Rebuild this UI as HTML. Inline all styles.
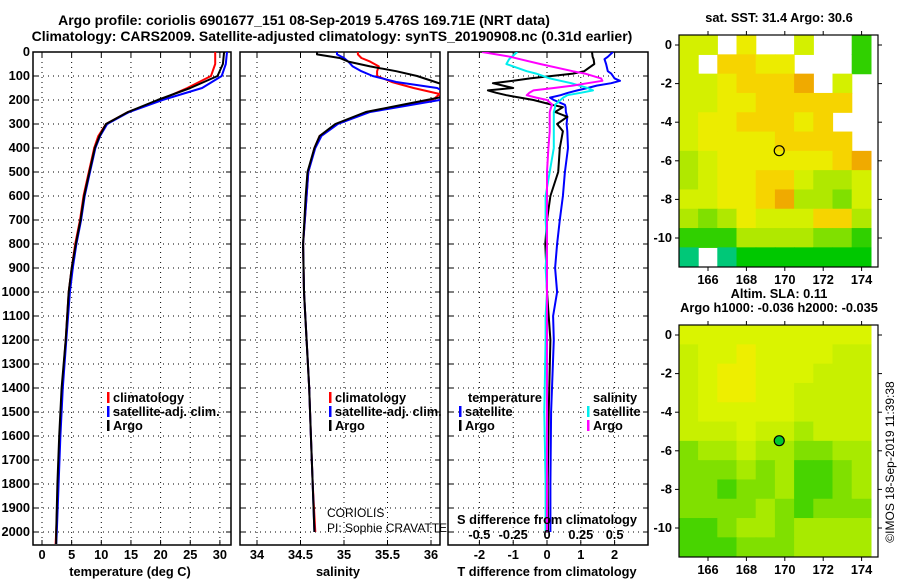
<!DOCTYPE html>
<html><head><meta charset="utf-8">
<style>
html,body{margin:0;padding:0;background:#fff;}
svg{display:block;font-family:"Liberation Sans",Arial,sans-serif;}
.t{font-weight:bold;font-size:14px;}
.tk{font-weight:bold;font-size:12.8px;}
</style></head>
<body>
<svg id="fig" width="900" height="580" viewBox="0 0 900 580" xmlns="http://www.w3.org/2000/svg">
<text x="304" y="25" text-anchor="middle" class="t">Argo profile: coriolis 6901677_151 08-Sep-2019 5.476S 169.71E (NRT data)</text>
<text x="332" y="41" text-anchor="middle" class="t">Climatology: CARS2009. Satellite-adjusted climatology: synTS_20190908.nc (0.31d earlier)</text>
<g id="plots"></g>
</svg>
<script>
// ---------- Data ----------
const tDepths = [0,50,100,150,200,250,300,350,400,500,600,700,800,900,1000,1200,1400,1600,1800,2000,2050];
const tClim   = [29.2,29.2,28.5,24.5,19.9,14.5,10.8,9.5,8.8,7.9,7.0,6.4,5.6,5.0,4.5,4.0,3.4,3.0,2.7,2.4,2.3];
const tSat    = [31.2,31.0,30.3,27.0,20.3,14.7,11.0,9.8,9.0,8.1,7.2,6.6,5.8,5.2,4.7,4.1,3.5,3.1,2.8,2.5,2.4];
const tArgo   = [30.7,30.5,29.6,25.0,19.5,14.5,10.8,9.7,8.9,8.0,7.1,6.5,5.7,5.0,4.5,4.0,3.3,2.9,2.6,2.4,2.4];

const sDepths = [0,10,25,40,60,80,100,125,150,175,200,225,250,300,350,400,500,600,800,1000,1200,1400,1600,1800,2000];
const sArgo = [34.69,34.69,34.95,35.05,35.3,35.6,35.84,36.05,36.25,36.3,35.95,35.6,35.25,34.9,34.72,34.66,34.58,34.56,34.53,34.54,34.57,34.6,34.62,34.64,34.66];
const sSat  = [34.92,34.92,35.0,35.05,35.1,35.2,35.33,35.6,36.07,36.2,36.1,35.7,35.3,34.93,34.74,34.67,34.59,34.57,34.53,34.54,34.57,34.6,34.62,34.64,34.66];
const sClim = [35.16,35.16,35.2,35.3,35.4,35.38,35.38,35.55,35.8,36.1,36.02,35.65,35.26,34.92,34.72,34.66,34.59,34.57,34.53,34.54,34.57,34.6,34.62,34.64,34.67];

const dDepths = [0,20,30,50,80,90,110,120,130,140,150,160,170,180,190,200,220,230,250,270,300,330,400,500,600,700,800,900,1000,1100,1200,1500,1800,2000];
const dtArgo = [1.33,1.35,1.38,1.4,1.1,0.77,-0.5,-1.0,-1.6,-1.3,-1.0,-1.75,-1.5,-1.2,-0.8,-0.4,0.15,0.47,0.24,0.6,0.3,0.47,0.38,0.33,0.1,0.0,-0.05,-0.02,0.0,0.05,0.1,0.05,0.02,0.03];
const dtSat  = [1.95,1.8,1.7,1.75,1.8,1.9,2.0,2.16,1.9,1.47,1.2,0.9,0.62,0.4,0.09,0.2,0.53,0.55,0.56,0.6,0.58,0.6,0.62,0.53,0.47,0.38,0.3,0.24,0.3,0.18,0.2,0.12,0.1,0.1];
const dsArgo = [-0.48,-0.27,-0.2,-0.05,0.19,0.28,0.4,0.41,0.3,0.19,0.05,-0.1,-0.13,-0.15,-0.08,0.0,0.04,0.03,0.02,0.02,0.02,0.02,0.01,0.0,0.0,0.0,0.0,0.0,0.0,0.0,0.0,0.0,0.0,0.0];
const dsSat  = [-0.22,-0.26,-0.28,-0.3,-0.15,-0.08,0.02,0.1,0.18,0.24,0.3,0.34,0.25,0.15,0.12,0.1,0.06,0.06,0.05,0.05,0.05,0.05,0.05,0.02,-0.01,-0.01,0.0,-0.01,0.0,-0.01,-0.01,-0.02,-0.01,-0.01];

const depthTicks = [0,100,200,300,400,500,600,700,800,900,1000,1100,1200,1300,1400,1500,1600,1700,1800,1900,2000];
const tTicks = [0,5,10,15,20,25,30];
const sTicks = [34,34.5,35,35.5,36];
const sTickLabels = ["34","34.5","35","35.5","36"];
const dtTicks = [-2,-1,0,1,2];
const dsTicks = [-0.5,-0.25,0,0.25,0.5];
const dsTickLabels = ["-0.5","-0.25","0","0.25","0.5"];

// Map fields (rows lat 0..-11, cols lon 165..174); '.' = no data
const sstRows = ["66.7..6..3","6.8877...3","6678889.6.","667788888.","67788878..","677778888.","5677777789","5677886556","6677895546","5457666885","3335555443","1.12222222"];
const slaRows = ["7777777777","6778777766","6788777666","6788776666","6777776666","6667665666","4556554455","4445453345","4434453345","4444543444","3345545555","3334445555"];
const lonTicks = [166,168,170,172,174];
const latTicks = [0,-2,-4,-6,-8,-10];
const floatLon = 169.71, floatLat = -5.476;

// ---------- Helpers ----------
const NS = "http://www.w3.org/2000/svg";
const root = document.getElementById('plots');
function mk(tag, attrs, parent){ const e=document.createElementNS(NS,tag); for(const k in attrs) e.setAttribute(k,attrs[k]); (parent||root).appendChild(e); return e; }
function txt(x,y,s,attrs,parent){ const e=mk('text',Object.assign({x:x,y:y},attrs||{}),parent); e.textContent=s; return e; }

const yTop=52, pxPerM=0.24, yBot=545;
const yD = d => yTop + d*pxPerM;

function panel(name,x0,x1,xScale,xTicks,xLabels,grid){
  const g=mk('g',{});  
  const cp=mk('clipPath',{id:'cp-'+name},g); mk('rect',{x:x0,y:yTop,width:x1-x0,height:yBot-yTop},cp);
  depthTicks.forEach(d=>{ const y=yD(d);
    mk('line',{x1:x0,x2:x1,y1:y,y2:y,stroke:'#000','stroke-width':1,'stroke-dasharray':'1,4'},g);
    mk('line',{x1:x0,x2:x0+5,y1:y,y2:y,stroke:'#000'},g);
    mk('line',{x1:x1-5,x2:x1,y1:y,y2:y,stroke:'#000'},g);
  });
  grid.forEach(v=>{ const x=xScale(v);
    mk('line',{x1:x,x2:x,y1:yTop,y2:yBot,stroke:'#000','stroke-width':1,'stroke-dasharray':'1,4'},g);
  });
  mk('rect',{x:x0,y:yTop,width:x1-x0,height:yBot-yTop,fill:'none',stroke:'#000','stroke-width':1.5},g);
  xTicks.forEach((v,i)=>{ const x=xScale(v);
    mk('line',{x1:x,x2:x,y1:yBot,y2:yBot-5,stroke:'#000'},g);
    mk('line',{x1:x,x2:x,y1:yTop,y2:yTop+5,stroke:'#000'},g);
    if(xLabels){ const t=txt(x,559,xLabels[i],{'text-anchor':'middle','class':'tk'},g);
        }
  });
  return g;
}
function series(g,name,clip,depths,vals,xScale,color,w){
  const pts=depths.map((d,i)=>xScale(vals[i]).toFixed(1)+','+yD(d).toFixed(1)).join(' ');
  const p=mk('polyline',{points:pts,fill:'none',stroke:color,'stroke-width':w||2,'clip-path':'url(#cp-'+clip+')','stroke-linejoin':'round'},g);
   
}
function legend(g,x,y,color,label,name){
  mk('rect',{x:x,y:y-10,width:2.5,height:11,fill:color},g);
  const t=txt(x+6,y,label,{'class':'tk'},g);
   
}

// ---------- Panel 1: temperature ----------
const xT = v => 42 + v*5.93;
const g1 = panel('temperature-panel',33,231,xT,tTicks,tTicks.map(String),tTicks);
depthTicks.forEach(d=>{ const t=txt(30,yD(d)+4,String(d),{'text-anchor':'end','class':'tk'},g1);
    });
series(g1,'temp-climatology-line','temperature-panel',tDepths,tClim,xT,'#f00');
series(g1,'temp-satellite-line','temperature-panel',tDepths,tSat,xT,'#00f');
series(g1,'temp-argo-line','temperature-panel',tDepths,tArgo,xT,'#000');
legend(g1,107,402,'#f00','climatology','legend-climatology');
legend(g1,107,416,'#00f','satellite-adj. clim.','legend-satellite');
legend(g1,107,430,'#000','Argo','legend-argo');
txt(130,576,'temperature (deg C)',{'text-anchor':'middle','class':'tk'},g1);

// ---------- Panel 2: salinity ----------
const xS = v => 257 + (v-34)*87;
const g2 = panel('salinity-panel',240,440,xS,sTicks,sTickLabels,sTicks);
series(g2,'sal-climatology-line','salinity-panel',sDepths,sClim,xS,'#f00');
series(g2,'sal-satellite-line','salinity-panel',sDepths,sSat,xS,'#00f');
series(g2,'sal-argo-line','salinity-panel',sDepths,sArgo,xS,'#000');
legend(g2,329,402,'#f00','climatology','legend-climatology');
legend(g2,329,416,'#00f','satellite-adj. clim.','legend-satellite');
legend(g2,329,430,'#000','Argo','legend-argo');
txt(327,517,'CORIOLIS',{'font-size':'12px'},g2);
txt(327,532,'PI: Sophie CRAVATTE',{'font-size':'12px'},g2);
txt(338,576,'salinity',{'text-anchor':'middle','class':'tk'},g2);

// ---------- Panel 3: differences ----------
const xDT = v => 547 + v*33.8;
const xDS = v => 547 + v*135.2;
const g3 = panel('difference-panel',448,648,xDT,dtTicks,dtTicks.map(String),dtTicks);
series(g3,'dT-satellite-line','difference-panel',dDepths,dtSat,xDT,'#00f');
series(g3,'dT-argo-line','difference-panel',dDepths,dtArgo,xDT,'#000');
series(g3,'dS-satellite-line','difference-panel',dDepths,dsSat,xDS,'#0ee');
series(g3,'dS-argo-line','difference-panel',dDepths,dsArgo,xDS,'#f0f');
txt(468,402,'temperature',{'class':'tk'},g3);
legend(g3,459,416,'#00f','satellite','legend-t-satellite');
legend(g3,459,430,'#000','Argo','legend-argo');
txt(593,402,'salinity',{'class':'tk'},g3);
legend(g3,587,416,'#0ee','satellite','legend-s-satellite');
legend(g3,587,430,'#f0f','Argo','legend-s-argo');
txt(547,524,'S difference from climatology',{'text-anchor':'middle','class':'tk'},g3);
dsTicks.forEach((v,i)=>{ const t=txt(xDS(v),539,dsTickLabels[i],{'text-anchor':'middle','class':'tk'},g3);
    });
txt(547,576,'T difference from climatology',{'text-anchor':'middle','class':'tk'},g3);

// ---------- Maps ----------
const sstColors = {'1':'#00c878','2':'#00c800','3':'#30d000','4':'#80e000','5':'#b0e800','6':'#d4f000','7':'#ecec00','8':'#f6d400','9':'#f0aa00'};
const slaColors = {'3':'#48d400','4':'#80e000','5':'#a8ea00','6':'#c8f000','7':'#daf400','8':'#eeee00'};
function map(name,top,rows,colors,title1,title2,filledMarker){
  const x0=679,x1=878,y0=top,y1=top+232;
  const lonS = v => 708 + (v-166)*19.2;
  const latS = v => (top+10) - v*19.3;
  const g=mk('g',{});  
  const cp=mk('clipPath',{id:'cp-'+name},g); mk('rect',{x:x0,y:y0,width:x1-x0,height:y1-y0},cp);
  const cg=mk('g',{'clip-path':'url(#cp-'+name+')'},g);
  rows.forEach((row,r)=>{ for(let c=0;c<row.length;c++){ const ch=row[c]; if(ch==='.') continue;
    const lon=165+c, lat=-r;
    const cell=mk('rect',{x:lonS(lon-0.5)-0.3,y:latS(lat+0.5)-0.3,width:19.8,height:19.9,fill:colors[ch]},cg);
     
  }});
  mk('rect',{x:x0,y:y0,width:x1-x0,height:y1-y0,fill:'none',stroke:'#000','stroke-width':1.2},g);
  lonTicks.forEach(v=>{ const x=lonS(v);
    mk('line',{x1:x,x2:x,y1:y1,y2:y1+4,stroke:'#000'},g); mk('line',{x1:x,x2:x,y1:y0,y2:y0-4,stroke:'#000'},g);
    const t=txt(x,y1+17,String(v),{'text-anchor':'middle','class':'tk'},g);  });
  latTicks.forEach(v=>{ const y=latS(v);
    mk('line',{x1:x0,x2:x0-4,y1:y,y2:y,stroke:'#000'},g); mk('line',{x1:x1,x2:x1+4,y1:y,y2:y,stroke:'#000'},g);
    const t=txt(672,y+4,String(v),{'text-anchor':'end','class':'tk'},g);  });
  const m=mk('circle',{cx:lonS(floatLon),cy:latS(floatLat),r:5,fill:filledMarker?'#00c830':'none',stroke:'#000','stroke-width':1.2},g);
   
  if(title1){ const t=txt(779,top-13-(title2?14:0),title1,{'text-anchor':'middle','class':'tk'},g);  }
  if(title2){ const t=txt(779,top-13,title2,{'text-anchor':'middle','class':'tk'},g);  }
}
map('sst-map',35,sstRows,sstColors,'sat. SST: 31.4 Argo: 30.6',null,false);
map('sla-map',325,slaRows,slaColors,'Altim. SLA: 0.11','Argo h1000: -0.036 h2000: -0.035',true);
const cr=txt(0,0,'©IMOS 18-Sep-2019 11:39:38',{'font-size':'12px','text-anchor':'middle',transform:'translate(894,462) rotate(-90)'});


</script>
</body></html>
